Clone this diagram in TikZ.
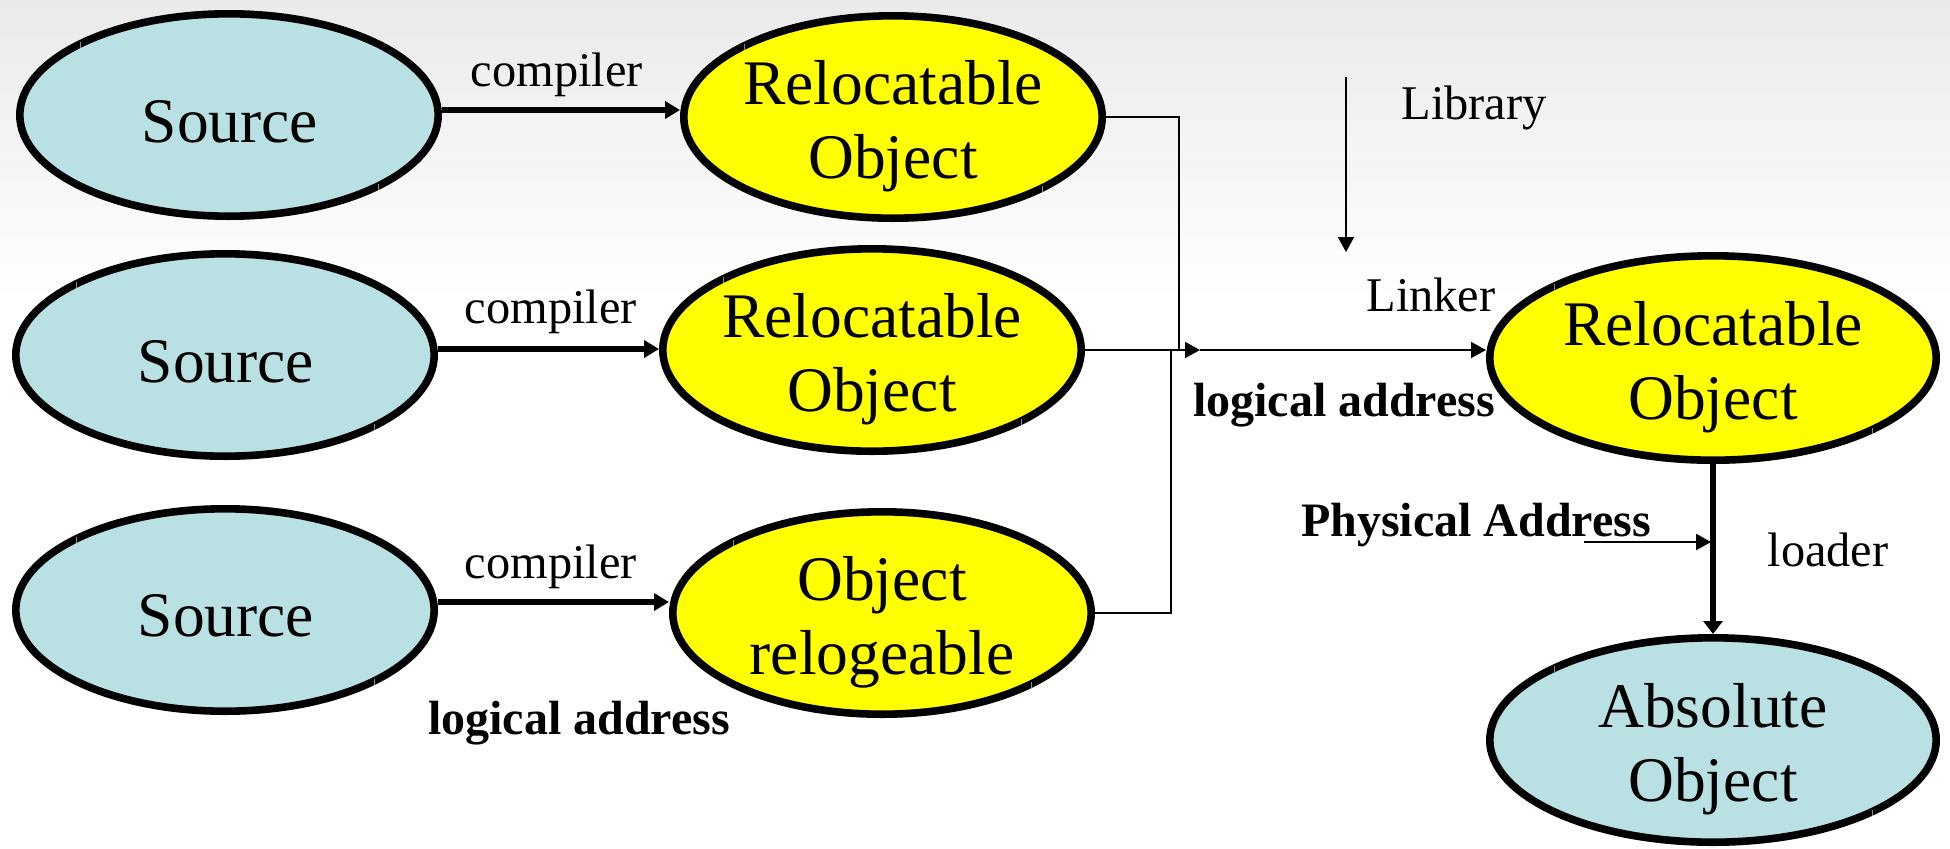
\documentclass[tikz,border=0pt]{standalone}
\usepackage{fontspec}
\setmainfont{Liberation Serif}
\usetikzlibrary{shapes.geometric,arrows.meta}
\definecolor{srcblue}{RGB}{185,224,227}
\definecolor{objyellow}{RGB}{255,255,0}
\definecolor{bgtop}{RGB}{234,234,234}
\definecolor{tickgray}{RGB}{140,140,140}
\begin{document}
\begin{tikzpicture}[x=0.5pt,y=-0.5pt,
  oval/.style={ellipse, draw=black, line width=3.8pt, inner sep=0pt, minimum width=209.2pt, minimum height=101.2pt},
  srcoval/.style={oval, fill=srcblue},
  objoval/.style={oval, fill=objyellow},
  wideoval/.style={minimum width=223.2pt, minimum height=102.2pt},
  bigtxt/.style={font=\fontsize{31.75}{37}\selectfont, align=center, inner sep=0pt},
  smalltxt/.style={font=\fontsize{24.2}{29}\selectfont, inner sep=0pt, anchor=base},
  boldtxt/.style={font=\fontsize{24}{29}\selectfont\bfseries, inner sep=0pt, anchor=base},
  bigarrow/.style={line width=2.8pt, -{Triangle[length=7.5pt,width=8.5pt]}},
  thinline/.style={line width=1pt},
  thinarrow/.style={line width=1pt, -{Triangle[length=7.5pt,width=8pt]}},
  physarrow/.style={line width=1.3pt, -{Triangle[length=7.5pt,width=8pt]}},
  thickarrow/.style={line width=3.2pt, -{Triangle[length=6.5pt,width=9.5pt]}},
  tickmark/.style={draw=tickgray, line width=0.6pt}
]
% background
\fill[white] (0,0) rectangle (1950,848);
\shade[top color=bgtop, bottom color=white] (0,0) rectangle (1950,300);
\useasboundingbox (0,0) rectangle (1950,848);

% ellipses
\node[srcoval] (S1) at (229,115) {};
\node[srcoval] (S2) at (225,355) {};
\node[srcoval] (S3) at (225,610) {};
\node[objoval] (R1) at (893,117) {};
\node[objoval] (R2) at (872,350) {};
\node[objoval] (R3) at (882,613) {};
\node[objoval,wideoval] (R4) at (1713,358) {};
\node[srcoval,wideoval] (A) at (1713,740) {};

% corner ticks
\foreach \n in {S1,S2,S3,R1,R2,R3,R4,A}{
  \draw[tickmark] (\n.north west) ++(2,1) -- ++(0,6);
  \draw[tickmark] (\n.south east) ++(-1,-5) -- ++(0,6);
}

% ellipse texts
\node[bigtxt, anchor=base] (S1t) at (230,142) {Source};
\node[bigtxt, anchor=base] (S2t) at (226,382) {Source};
\node[bigtxt, anchor=base] (S3t) at (226,636) {Source};
\node[bigtxt] (R1t) at ([yshift=-4.8pt]R1.center) {Relocatable\\Object};
\node[bigtxt] (R2t) at ([yshift=-4.8pt]R2.center) {Relocatable\\Object};
\node[bigtxt] (R3t) at ([yshift=-4.8pt]R3.center) {Object\\relogeable};
\node[bigtxt] (R4t) at ([yshift=-4.8pt]R4.center) {Relocatable\\Object};
\node[bigtxt] (At) at ([yshift=-4.8pt]A.center) {Absolute\\Object};

% labels
\node[smalltxt] (c1) at (557,86) {compiler};
\node[smalltxt] (c2) at (551,323) {compiler};
\node[smalltxt] (c3) at (551,578) {compiler};
\node[boldtxt] (la1) at (579,734) {logical address};
\node[smalltxt] (lib) at (1474,119) {Library};
\node[smalltxt] (lnk) at (1431,311) {Linker};
\node[boldtxt] (la2) at (1344,416) {logical address};
\node[boldtxt] (pa) at (1476,536) {Physical Address};
\node[smalltxt] (ld) at (1828,566) {loader};

% compiler arrows
\coordinate (a1) at ([yshift=2.5pt]S1.east);
\coordinate (a2) at ([yshift=3pt]S2.east);
\coordinate (a3) at ([yshift=4pt]S3.east);
\draw[bigarrow] (a1) -- (a1 -| R1.west);
\draw[bigarrow] (a2) -- (a2 -| R2.west);
\draw[bigarrow] (a3) -- (a3 -| R3.west);

% linker connectors
\coordinate (J1) at (1179,350);
\coordinate (J3) at (1171,350);
\coordinate (M) at (1200,350);
\draw[thinline] (R1.east) -| (J1);
\draw[thinline] (R3.east) -| (J3);
\draw[thinarrow] (R2.east) -- (M);
\draw[thinarrow] (M) -- (M -| R4.west);

% library arrow
\coordinate (L0) at (1346,77);
\coordinate (L1) at (1346,252);
\draw[thinarrow] (L0) -- (L1);

% physical address arrow
\coordinate (P0) at (1584,542);
\coordinate (P1) at (1711,542);
\draw[physarrow] (P0) -- (P1);

% loader arrow
\draw[thickarrow] (R4.south) -- (A.north);
\end{tikzpicture}
\end{document}
